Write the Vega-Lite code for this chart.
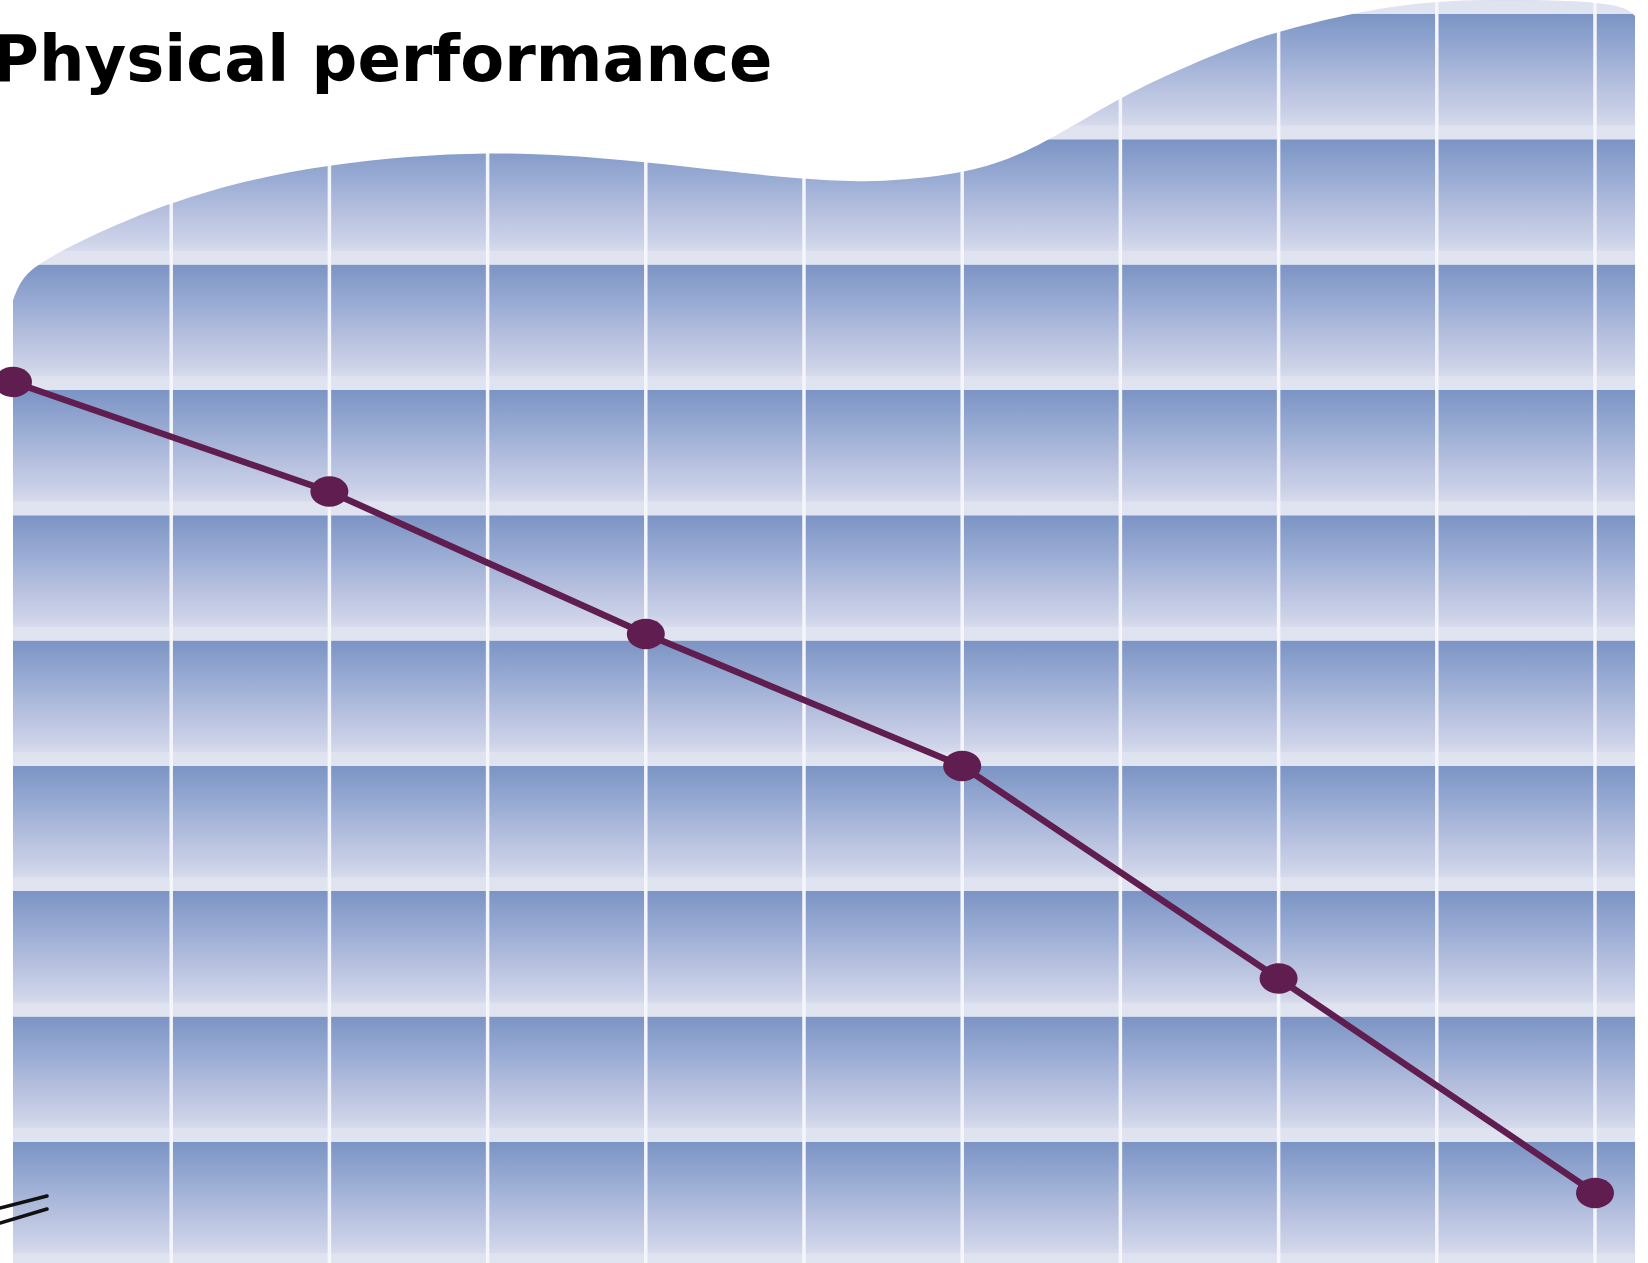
{
  "$schema": "https://vega.github.io/schema/vega-lite/v6.json",
  "width": 1648,
  "height": 1263,
  "padding": 0,
  "autosize": {"type": "none"},
  "background": "white",
  "config": {"view": {"stroke": null}},
  "datasets": {
    "bands": [
      {"k": 0, "k1": 1}, {"k": 1, "k1": 2}, {"k": 2, "k1": 3}, {"k": 3, "k1": 4},
      {"k": 4, "k1": 5}, {"k": 5, "k1": 6}, {"k": 6, "k1": 7}, {"k": 7, "k1": 8},
      {"k": 8, "k1": 9}, {"k": 9, "k1": 10}, {"k": 10, "k1": 11}
    ],
    "grid": [
      {"u": 1}, {"u": 2}, {"u": 3}, {"u": 4}, {"u": 5},
      {"u": 6}, {"u": 7}, {"u": 8}, {"u": 9}, {"u": 10}
    ],
    "curve": [
      {"u": 0, "w": 7.717}, {"u": 0.0316, "w": 7.821}, {"u": 0.0759, "w": 7.909},
      {"u": 0.1391, "w": 7.981}, {"u": 0.2086, "w": 8.037}, {"u": 0.3413, "w": 8.133},
      {"u": 0.5499, "w": 8.26}, {"u": 0.7396, "w": 8.364}, {"u": 0.9798, "w": 8.484},
      {"u": 1.4665, "w": 8.675}, {"u": 1.9975, "w": 8.795}, {"u": 2.4968, "w": 8.865},
      {"u": 2.9962, "w": 8.895}, {"u": 3.464, "w": 8.878}, {"u": 3.9949, "w": 8.82},
      {"u": 4.4943, "w": 8.747}, {"u": 4.9747, "w": 8.683}, {"u": 5.4172, "w": 8.651},
      {"u": 5.9987, "w": 8.72}, {"u": 6.3401, "w": 8.86}, {"u": 6.6, "w": 9.03},
      {"u": 6.9912, "w": 9.33}, {"u": 7.3704, "w": 9.56}, {"u": 7.8192, "w": 9.79},
      {"u": 8.0025, "w": 9.86}, {"u": 8.4956, "w": 10.02}, {"u": 9.0013, "w": 10.11},
      {"u": 9.524, "w": 10.115}, {"u": 10.0, "w": 10.1}, {"u": 10.2, "w": 10.05},
      {"u": 10.253, "w": 9.984}
    ],
    "perf": [
      {"u": 0, "w": 7.063}, {"u": 2, "w": 6.189}, {"u": 4, "w": 5.052},
      {"u": 6, "w": 3.998}, {"u": 8, "w": 2.302}, {"u": 10, "w": 0.591}
    ],
    "brk": [
      {"u": -0.0822, "w": 0.4709, "u2": 0.2149, "w2": 0.5666},
      {"u": -0.0822, "w": 0.3512, "u2": 0.2149, "w2": 0.4629}
    ]
  },
  "layer": [
    {
      "data": {"name": "bands"},
      "mark": {
        "type": "rect",
        "color": {
          "gradient": "linear", "x1": 0, "y1": 0, "x2": 0, "y2": 1,
          "stops": [
            {"offset": 0, "color": "#7b94c4"},
            {"offset": 0.32, "color": "#9aacd4"},
            {"offset": 0.59, "color": "#b7c1df"},
            {"offset": 0.81, "color": "#ccd2e8"},
            {"offset": 0.885, "color": "#d6daec"},
            {"offset": 0.895, "color": "#dfe2ef"},
            {"offset": 1, "color": "#e0e3f0"}
          ]
        }
      },
      "encoding": {
        "x": {"datum": 0, "type": "quantitative", "scale": {"domain": [-0.08217, 10.335], "nice": false, "zero": false}, "axis": null},
        "x2": {"datum": 10.253},
        "y": {"field": "k1", "type": "quantitative", "scale": {"domain": [0.0319, 10.1117], "nice": false, "zero": false}, "axis": null},
        "y2": {"field": "k"}
      }
    },
    {
      "data": {"name": "grid"},
      "mark": {"type": "rule", "color": "#f5f6fb", "strokeWidth": 3.5},
      "encoding": {
        "x": {"field": "u", "type": "quantitative", "scale": {"domain": [-0.08217, 10.335], "nice": false, "zero": false}, "axis": null}
      }
    },
    {
      "data": {"name": "curve"},
      "mark": {"type": "area", "color": "white", "interpolate": "basis", "opacity": 1},
      "encoding": {
        "x": {"field": "u", "type": "quantitative", "scale": {"domain": [-0.08217, 10.335], "nice": false, "zero": false}, "axis": null},
        "y": {"field": "w", "type": "quantitative", "scale": {"domain": [0.0319, 10.1117], "nice": false, "zero": false}, "axis": null},
        "y2": {"datum": 10.6}
      }
    },
    {
      "data": {"name": "perf"},
      "mark": {"type": "line", "color": "#601e50", "strokeWidth": 6.5},
      "encoding": {
        "x": {"field": "u", "type": "quantitative", "scale": {"domain": [-0.08217, 10.335], "nice": false, "zero": false}, "axis": null},
        "y": {"field": "w", "type": "quantitative", "scale": {"domain": [0.0319, 10.1117], "nice": false, "zero": false}, "axis": null}
      }
    },
    {
      "data": {"name": "perf"},
      "mark": {"type": "point", "filled": true, "opacity": 1, "color": "#601e50", "size": 1444, "shape": "M -1 0 A 1 0.8 0 1 0 1 0 A 1 0.8 0 1 0 -1 0 Z"},
      "encoding": {
        "x": {"field": "u", "type": "quantitative", "scale": {"domain": [-0.08217, 10.335], "nice": false, "zero": false}, "axis": null},
        "y": {"field": "w", "type": "quantitative", "scale": {"domain": [0.0319, 10.1117], "nice": false, "zero": false}, "axis": null}
      }
    },
    {
      "data": {"name": "brk"},
      "mark": {"type": "rule", "color": "#111111", "strokeWidth": 3.5, "strokeCap": "round"},
      "encoding": {
        "x": {"field": "u", "type": "quantitative", "scale": {"domain": [-0.08217, 10.335], "nice": false, "zero": false}, "axis": null},
        "x2": {"field": "u2"},
        "y": {"field": "w", "type": "quantitative", "scale": {"domain": [0.0319, 10.1117], "nice": false, "zero": false}, "axis": null},
        "y2": {"field": "w2"}
      }
    },
    {
      "data": {"values": [{"label": "Physical performance"}]},
      "mark": {"type": "text", "font": "DejaVu Sans", "fontWeight": "bold", "fontSize": 64, "align": "left", "baseline": "alphabetic", "color": "#000000"},
      "encoding": {
        "x": {"datum": -0.1327, "type": "quantitative", "scale": {"domain": [-0.08217, 10.335], "nice": false, "zero": false}, "axis": null},
        "y": {"datum": 9.465, "type": "quantitative", "scale": {"domain": [0.0319, 10.1117], "nice": false, "zero": false}, "axis": null},
        "text": {"field": "label"}
      }
    }
  ]
}
